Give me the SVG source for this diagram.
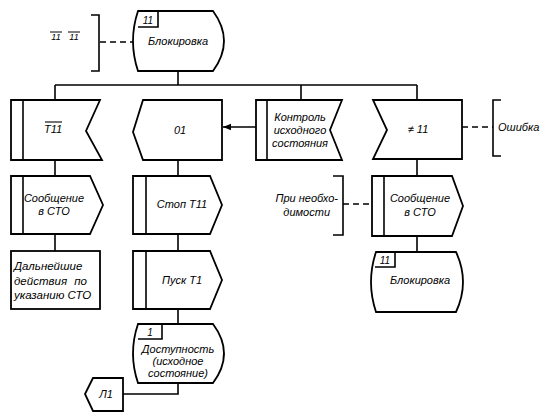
<svg xmlns="http://www.w3.org/2000/svg" width="542" height="416" viewBox="0 0 542 416">
<style>
.s{fill:#fff;stroke:#000;stroke-width:1.8;stroke-linejoin:miter}
.l{fill:none;stroke:#000;stroke-width:1.6}
.d{fill:none;stroke:#000;stroke-width:1.6;stroke-dasharray:6,4}
.t{font-family:"Liberation Sans",Arial,sans-serif;font-style:italic;font-size:11px;fill:#000;text-anchor:middle}
.tl{font-family:"Liberation Sans",Arial,sans-serif;font-style:italic;font-size:11px;fill:#000;text-anchor:start}
.tr{font-family:"Liberation Sans",Arial,sans-serif;font-style:italic;font-size:11px;fill:#000;text-anchor:end}
</style>
<defs>
<marker id="ah" viewBox="0 0 10 10" refX="10" refY="5" markerWidth="8" markerHeight="8" markerUnits="userSpaceOnUse" orient="auto">
<path d="M0,1 L10,5 L0,9 Z" fill="#000"/>
</marker>
</defs>
<rect width="542" height="416" fill="#fff"/>

<g id="connectors">
<path class="l" d="M178,71 V85"/>
<path class="l" d="M55,85 H417"/>
<path class="l" d="M55,85 V100"/>
<path class="l" d="M301,85 V100"/>
<path class="l" d="M417,85 V100"/>
<path class="l" d="M55,160 V176"/>
<path class="l" d="M55,234 V251"/>
<path class="l" d="M178,160 V176"/>
<path class="l" d="M178,234 V251"/>
<path class="l" d="M178,309 V324"/>
<path class="l" d="M178,383 V394 H123"/>
<path class="l" d="M417,160 V176"/>
<path class="l" d="M417,236 V252"/>
<path class="l" d="M256,127 H223" marker-end="url(#ah)"/>
<path class="d" d="M100,42 H133"/>
<path class="d" d="M462,127 H493"/>
<path class="d" d="M343,204 H372"/>
</g>

<g id="note_top">
<path class="l" d="M91,15 H99 V71 H91"/>
<text class="t" x="56" y="40" style="font-size:9px">11</text>
<path class="l" d="M50,32 H62" style="stroke-width:1"/>
<text class="t" x="74" y="40" style="font-size:9px">11</text>
<path class="l" d="M68,32 H80" style="stroke-width:1"/>
</g>

<g id="block_top">
<path class="s" d="M138,11 H213 Q235,41 213,71 H138 Q128,41 138,11 Z"/>
<path class="l" d="M138,27 H158 V11"/>
<text class="t" x="148" y="24" style="font-size:10px">11</text>
<text class="t" x="178" y="45">Блокировка</text>
</g>

<g id="t11">
<path class="s" d="M11,100 H100 L86,131 L102,160 H11 Z"/>
<path class="l" d="M23,100 V160"/>
<text class="t" x="53" y="133">T11</text>
<path class="l" d="M45,122 H62" style="stroke-width:1.1"/>
</g>

<g id="o1">
<path class="s" d="M143,100 H222 V160 H143 L133,132 Z"/>
<text class="t" x="180" y="134">01</text>
</g>

<g id="control">
<path class="s" d="M256,100 H342 L330,130 L342,160 H256 Z"/>
<path class="l" d="M267,100 V160"/>
<text class="t" x="300" y="121">Контроль</text>
<text class="t" x="300" y="134">исходного</text>
<text class="t" x="300" y="147">состояния</text>
</g>

<g id="ne11">
<path class="s" d="M373,100 H462 V159 H373 L387,130 Z"/>
<text class="t" x="418" y="133">≠ 11</text>
</g>

<g id="note_error">
<path class="l" d="M501,100 H493 V156 H501"/>
<text class="tl" x="498" y="131">Ошибка</text>
</g>

<g id="msg_left">
<path class="s" d="M11,176 H90 L103,205 L90,234 H11 Z"/>
<path class="l" d="M23,176 V234"/>
<text class="t" x="54" y="202">Сообщение</text>
<text class="t" x="54" y="215">в СТО</text>
</g>

<g id="stop">
<path class="s" d="M133,176 H210 L222,205 L210,234 H133 Z"/>
<path class="l" d="M146,176 V234"/>
<text class="t" x="182" y="208">Стоп Т11</text>
</g>

<g id="msg_right">
<path class="s" d="M372,176 H452 L463,206 L452,236 H372 Z"/>
<path class="l" d="M384,176 V236"/>
<text class="t" x="420" y="202">Сообщение</text>
<text class="t" x="420" y="216">в СТО</text>
</g>

<g id="note_need">
<path class="l" d="M333,176 H343 V235 H333"/>
<text class="tr" x="338" y="202">При необхо-</text>
<text class="tr" x="330" y="216">димости</text>
</g>

<g id="further">
<rect class="s" x="11" y="251" width="89" height="58"/>
<text class="tl" x="14" y="270" style="font-size:11.5px">Дальнейшие</text>
<text class="tl" x="14" y="285" style="font-size:11.5px" word-spacing="4">действия по</text>
<text class="tl" x="14" y="299" style="font-size:11.5px">указанию СТО</text>
</g>

<g id="start">
<path class="s" d="M133,251 H210 L222,280 L210,309 H133 Z"/>
<path class="l" d="M146,251 V309"/>
<text class="t" x="182" y="284">Пуск Т1</text>
</g>

<g id="block_right">
<path class="s" d="M376,252 H456 Q470,282 456,312 H376 Q366,282 376,252 Z"/>
<path class="l" d="M375,267 H395 V252"/>
<text class="t" x="385" y="264" style="font-size:10px">11</text>
<text class="t" x="420" y="284">Блокировка</text>
</g>

<g id="avail">
<path class="s" d="M138,324 H213 Q235,353.5 213,383 H138 Q128,353.5 138,324 Z"/>
<path class="l" d="M138,339 H162 V324"/>
<text class="t" x="150" y="336" style="font-size:10px">1</text>
<text class="t" x="178" y="353">Доступность</text>
<text class="t" x="178" y="365">(исходное</text>
<text class="t" x="178" y="377">состояние)</text>
</g>

<g id="l1">
<path class="s" d="M93,378 H123 V411 H93 L85,394 Z"/>
<text class="t" x="106" y="398">Л1</text>
</g>
</svg>
